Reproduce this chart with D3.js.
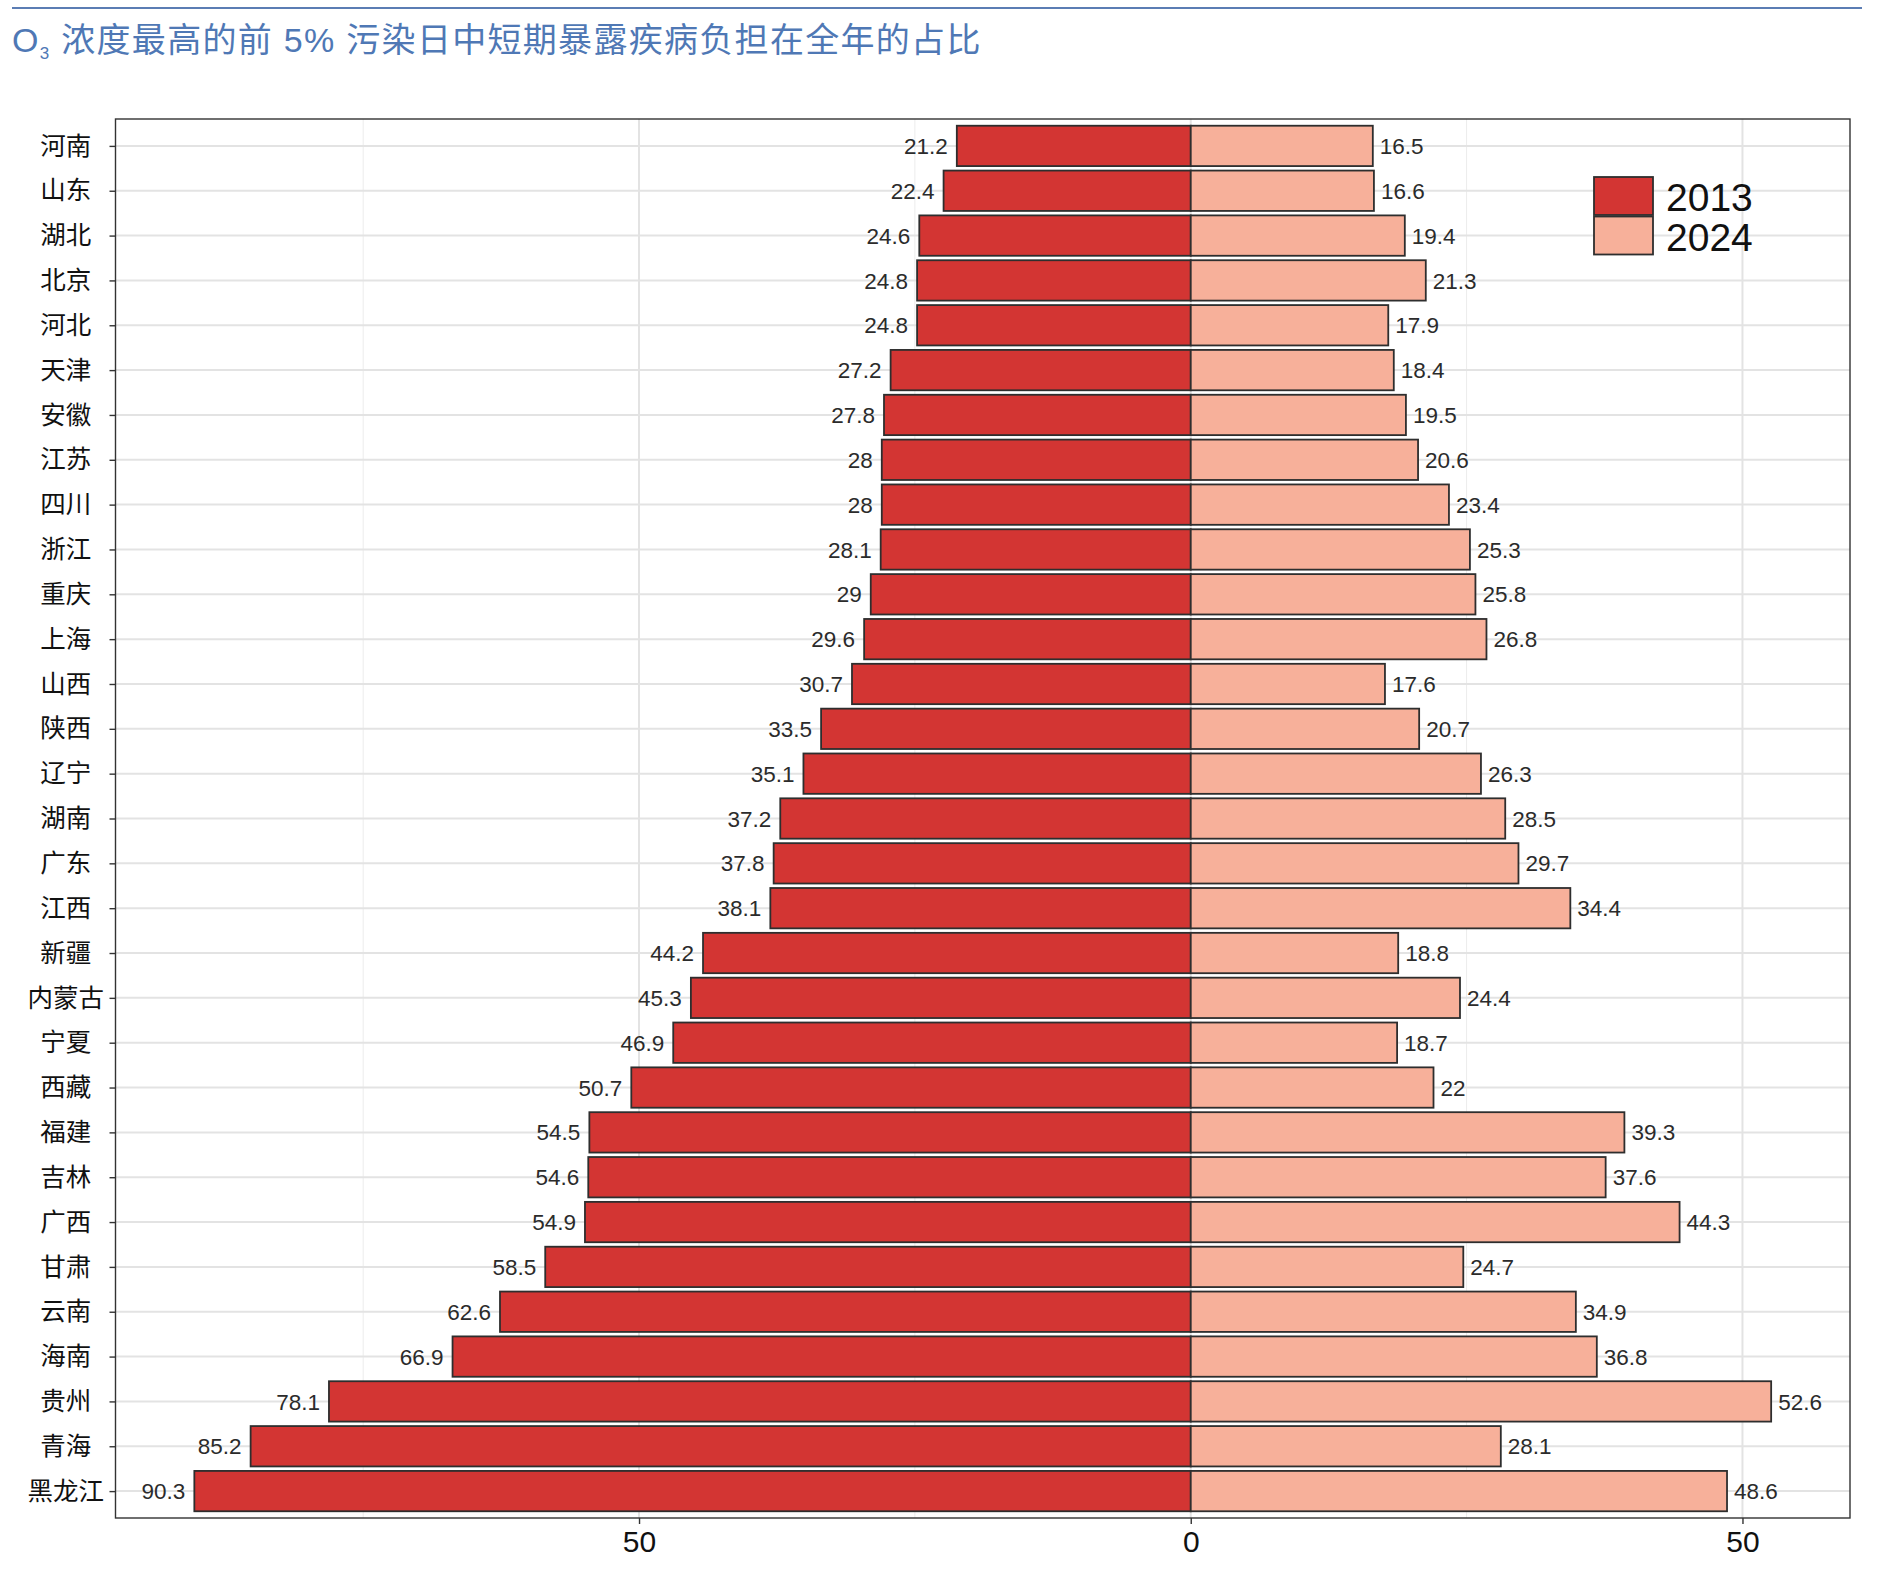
<!DOCTYPE html>
<html><head><meta charset="utf-8">
<script src="https://cdn.jsdelivr.net/npm/d3@7"></script>
<style>
html,body{margin:0;padding:0;background:#fff;}
svg{display:block;}
</style></head>
<body>
<svg id="chart" width="1886" height="1586"></svg>
<script>
const provinces = ["河南","山东","湖北","北京","河北","天津","安徽","江苏","四川","浙江","重庆","上海","山西","陕西","辽宁","湖南","广东","江西","新疆","内蒙古","宁夏","西藏","福建","吉林","广西","甘肃","云南","海南","贵州","青海","黑龙江"];
const values2013 = [21.2,22.4,24.6,24.8,24.8,27.2,27.8,28,28,28.1,29,29.6,30.7,33.5,35.1,37.2,37.8,38.1,44.2,45.3,46.9,50.7,54.5,54.6,54.9,58.5,62.6,66.9,78.1,85.2,90.3];
const values2024 = [16.5,16.6,19.4,21.3,17.9,18.4,19.5,20.6,23.4,25.3,25.8,26.8,17.6,20.7,26.3,28.5,29.7,34.4,18.8,24.4,18.7,22,39.3,37.6,44.3,24.7,34.9,36.8,52.6,28.1,48.6];
const seriesNames = ["2013","2024"];
const xTickValues = [-50,0,50];
const xMinorValues = [-75,-25,25];
const titleMain = "O";
const titleSub = "3";
const titleRest = " 浓度最高的前 5% 污染日中短期暴露疾病负担在全年的占比";

const colors = {"2013":"#D33533","2024":"#F7B09A"};
const stroke = "#2e2e2e";
const numFont = "'Liberation Sans', Arial, Helvetica, sans-serif";
const cjkFont = "'Liberation Sans', 'Noto Sans CJK SC', sans-serif";

const svg = d3.select("#chart");
const panel = {left:115.5, right:1850, top:119, bottom:1518};

// ggplot-like 5% expansion
const lo = -d3.max(values2013), hi = d3.max(values2024);
const span = hi - lo;
const x = d3.scaleLinear().domain([lo - 0.05*span, hi + 0.05*span]).range([panel.left, panel.right]);
const y = d3.scalePoint().domain(provinces).range([panel.top, panel.bottom]).padding(0.6);
const bh = y.step()*0.9;

// title rule and title
svg.append("line").attr("x1",12).attr("x2",1862).attr("y1",8).attr("y2",8)
  .attr("stroke","#5B7DB4").attr("stroke-width",2);
const title = svg.append("text").attr("x",12).attr("y",52)
  .attr("font-family",cjkFont).attr("font-size",34).attr("letter-spacing",1.3).attr("fill","#4F78B5");
title.append("tspan").text(titleMain);
title.append("tspan").attr("font-size",17).attr("dy",7).text(titleSub);
title.append("tspan").attr("dy",-7).text(titleRest);

// panel background + grid
const g = svg.append("g");
g.append("rect").attr("x",panel.left).attr("y",panel.top)
  .attr("width",panel.right-panel.left).attr("height",panel.bottom-panel.top).attr("fill","#fff");
g.selectAll(".minor").data(xMinorValues).enter().append("line")
  .attr("x1",d=>x(d)).attr("x2",d=>x(d)).attr("y1",panel.top).attr("y2",panel.bottom)
  .attr("stroke","#ececec").attr("stroke-width",1);
g.selectAll(".vmajor").data(xTickValues).enter().append("line")
  .attr("x1",d=>x(d)).attr("x2",d=>x(d)).attr("y1",panel.top).attr("y2",panel.bottom)
  .attr("stroke","#e3e3e3").attr("stroke-width",2);
g.selectAll(".hmajor").data(provinces).enter().append("line")
  .attr("x1",panel.left).attr("x2",panel.right).attr("y1",d=>y(d)).attr("y2",d=>y(d))
  .attr("stroke","#e3e3e3").attr("stroke-width",2);

// bars
const rows = provinces.map((p,i)=>({p, a:values2013[i], b:values2024[i]}));
g.selectAll(".b13").data(rows).enter().append("rect")
  .attr("x",d=>x(-d.a)).attr("width",d=>x(0)-x(-d.a))
  .attr("y",d=>y(d.p)-bh/2).attr("height",bh)
  .attr("fill",colors["2013"]).attr("stroke",stroke).attr("stroke-width",1.8);
g.selectAll(".b24").data(rows).enter().append("rect")
  .attr("x",x(0)).attr("width",d=>x(d.b)-x(0))
  .attr("y",d=>y(d.p)-bh/2).attr("height",bh)
  .attr("fill",colors["2024"]).attr("stroke",stroke).attr("stroke-width",1.8);

// value labels
g.selectAll(".l13").data(rows).enter().append("text")
  .attr("x",d=>x(-d.a)-9).attr("y",d=>y(d.p)).attr("dy","0.36em")
  .attr("text-anchor","end").attr("font-family",numFont).attr("font-size",22.5).attr("fill","#2b2b2b")
  .text(d=>String(d.a));
g.selectAll(".l24").data(rows).enter().append("text")
  .attr("x",d=>x(d.b)+7).attr("y",d=>y(d.p)).attr("dy","0.36em")
  .attr("text-anchor","start").attr("font-family",numFont).attr("font-size",22.5).attr("fill","#2b2b2b")
  .text(d=>String(d.b));

// panel border
svg.append("rect").attr("x",panel.left).attr("y",panel.top)
  .attr("width",panel.right-panel.left).attr("height",panel.bottom-panel.top)
  .attr("fill","none").attr("stroke","#333").attr("stroke-width",1.4);

// x axis
const xAxis = svg.append("g").attr("transform",`translate(0,${panel.bottom})`)
  .call(d3.axisBottom(x).tickValues(xTickValues).tickSize(6).tickPadding(7).tickFormat(d=>Math.abs(d)));
xAxis.select(".domain").remove();
xAxis.selectAll(".tick line").attr("stroke","#333").attr("stroke-width",1.4);
xAxis.selectAll(".tick text").attr("font-family",numFont).attr("font-size",30).attr("fill","#111");

// y axis
const yAxis = svg.append("g").attr("transform",`translate(${panel.left},0)`)
  .call(d3.axisLeft(y).tickSize(6));
yAxis.select(".domain").remove();
yAxis.selectAll(".tick line").attr("stroke","#333").attr("stroke-width",1.4);
yAxis.selectAll(".tick text").attr("x",65.7-panel.left).attr("text-anchor","middle")
  .attr("font-family",cjkFont).attr("font-size",25.5).attr("fill","#111");

// legend
const leg = svg.append("g");
seriesNames.forEach((s,i)=>{
  leg.append("rect").attr("x",1594).attr("y",177+i*39.5).attr("width",59).attr("height",38)
    .attr("fill",colors[s]).attr("stroke",stroke).attr("stroke-width",1.8);
  leg.append("text").attr("x",1666).attr("y",197+i*40).attr("dy","0.36em")
    .attr("font-family",numFont).attr("font-size",39).attr("fill","#111").text(s);
});
</script>
</body></html>
